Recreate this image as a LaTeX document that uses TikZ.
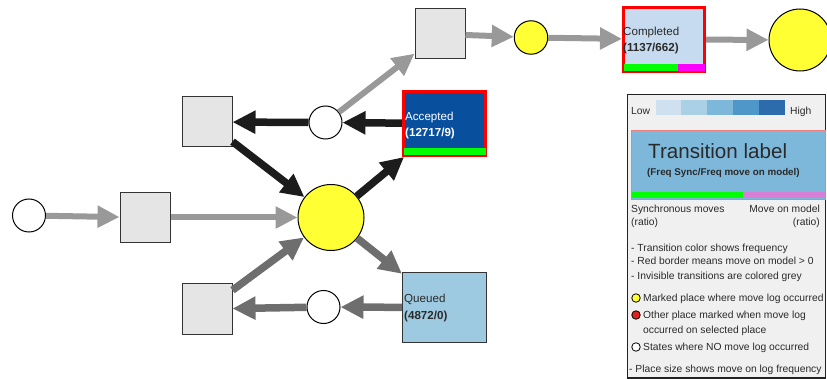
\documentclass[tikz,border=0pt]{standalone}
\usepackage{fontspec}
\setmainfont{Liberation Sans}
\usetikzlibrary{arrows.meta}

\definecolor{edgelight}{HTML}{999999}
\definecolor{edgemid}{HTML}{6E6E6E}
\definecolor{edgedark}{HTML}{1C1C1C}
\definecolor{transfill}{HTML}{E5E5E5}
\definecolor{transline}{HTML}{333333}
\definecolor{placeyel}{HTML}{FFFF33}
\definecolor{accfill}{HTML}{08509E}
\definecolor{quefill}{HTML}{9ECAE1}
\definecolor{compfill}{HTML}{C6DBEF}
\definecolor{syncgreen}{HTML}{00FF00}
\definecolor{modelmag}{HTML}{FF00FF}
\definecolor{legbg}{HTML}{F0F0F0}
\definecolor{legline}{HTML}{222222}
\definecolor{gradA}{HTML}{CFE1F0}
\definecolor{gradB}{HTML}{A9D0E4}
\definecolor{gradC}{HTML}{7DB8DB}
\definecolor{gradD}{HTML}{4E97C8}
\definecolor{gradE}{HTML}{2D6CAC}
\definecolor{legborder}{HTML}{F08080}
\definecolor{legviolet}{HTML}{D77FD7}
\definecolor{legred}{HTML}{E02020}
\definecolor{txtdark}{HTML}{2A2A2A}

\begin{document}
\begin{tikzpicture}[x=1pt,y=-1pt,
  place/.style={circle,draw=black,line width=1pt,fill=white,inner sep=0pt},
  trans/.style={rectangle,draw=transline,line width=1pt,fill=transfill,
    minimum size=50pt,inner sep=0pt},
  activity/.style={rectangle,inner sep=0pt,minimum width=82pt,minimum height=64pt},
  edgeL/.style={draw=edgelight,line width=6pt,-{Triangle[length=22pt,width=21pt]}},
  edgeM/.style={draw=edgemid,line width=7.5pt,-{Triangle[length=23pt,width=22pt]}},
  edgeD/.style={draw=edgedark,line width=7.5pt,-{Triangle[length=23pt,width=22pt]}},
  ntext/.style={inner sep=0pt,anchor=base west,font=\fontsize{11.6}{14}\selectfont},
  ltext/.style={inner sep=0pt,anchor=base west,text=txtdark,font=\fontsize{10.3}{12}\selectfont},
  rtext/.style={inner sep=0pt,anchor=base east,text=txtdark,font=\fontsize{10.3}{12}\selectfont},
  legdot/.style={circle,draw=black,line width=0.8pt,inner sep=0pt,minimum size=8.5pt}
]
\useasboundingbox (0,0) rectangle (827,379);

% ---- places ----
\node[place,minimum size=33pt] (pstart) at (29,215.5) {};
\node[place,fill=placeyel,minimum size=66pt] (pcentre) at (331,217.5) {};
\node[place,minimum size=33pt] (pacc) at (325.5,122.5) {};
\node[place,minimum size=33pt] (pque) at (323.5,307) {};
\node[place,fill=placeyel,minimum size=33.5pt] (pmid) at (531,37.5) {};
\node[place,fill=placeyel,minimum size=62pt] (pend) at (800,40) {};

% ---- invisible transitions ----
\node[trans] (tstart) at (145,217.5) {};
\node[trans] (tloopA) at (207,122) {};
\node[trans] (tloopQ) at (207,309) {};
\node[trans] (ttop) at (440,34) {};

% ---- visible transitions ----
\node[activity,fill=accfill,draw=red,line width=3pt] (acc) at (444.5,123.5) {};
\fill[syncgreen] ([xshift=1.5pt,yshift=1.5pt]acc.south west) rectangle ([xshift=-1.5pt,yshift=8.5pt]acc.south east);
\node[ntext,text=white] (accname) at (405,121) {Accepted};
\node[ntext,text=white] (acccount) at (405,136.5) {\textbf{(12717/9)}};

\node[activity,fill=quefill,draw=transline,line width=1pt,minimum width=84pt,minimum height=69pt] (que) at (444.5,307.5) {};
\node[ntext,text=txtdark] (quename) at (404,302.5) {Queued};
\node[ntext,text=txtdark] (quecount) at (404,319.5) {\textbf{(4872/0)}};

\node[activity,fill=compfill,draw=red,line width=3pt,minimum width=81pt,minimum height=64pt] (comp) at (664,39.5) {};
\fill[syncgreen] ([xshift=1.5pt,yshift=1.5pt]comp.south west) rectangle ([xshift=-28pt,yshift=8.5pt]comp.south east);
\fill[modelmag] ([xshift=-28pt,yshift=1.5pt]comp.south east) rectangle ([xshift=-1.5pt,yshift=8.5pt]comp.south east);
\node[ntext,text=txtdark] (compname) at (623,36) {Completed};
\node[ntext,text=txtdark] (compcount) at (623,51.5) {\textbf{(1137/662)}};

% ---- arcs ----
\draw[edgeL] (pstart) -- (tstart);
\draw[edgeL] (tstart) -- (pcentre);
\draw[edgeD] (pcentre) -- (acc);
\draw[edgeD] (acc) -- (pacc);
\draw[edgeD] (pacc) -- (tloopA);
\draw[edgeD] (tloopA) -- (pcentre);
\draw[edgeM] (pcentre) -- (que);
\draw[edgeM] (que) -- (pque);
\draw[edgeM] (pque) -- (tloopQ);
\draw[edgeM] (tloopQ) -- (pcentre);
\draw[edgeL] (pacc) -- (ttop);
\draw[edgeL] (ttop) -- (pmid);
\draw[edgeL] (pmid) -- (comp);
\draw[edgeL] (comp) -- (pend);

% ---- legend ----
\draw[fill=legbg,draw=legline,line width=1.2pt] (627.5,94.5) rectangle (825.5,378);
\node[ltext] (lowlbl) at (631,114.5) {Low};
\fill[gradA] (656,100) rectangle (681,115);
\fill[gradB] (681,100) rectangle (707,115);
\fill[gradC] (707,100) rectangle (733,115);
\fill[gradD] (733,100) rectangle (759,115);
\fill[gradE] (759,100) rectangle (785,115);
\node[ltext] (highlbl) at (790,114.5) {High};

\fill[gradC] (631,130) rectangle (825,199);
\fill[syncgreen] (631,192) rectangle (743,198.5);
\fill[legviolet] (743,192) rectangle (825,198.5);
\draw[legborder,line width=0.9pt] (631,130) rectangle (825,199);
\node[inner sep=0pt,anchor=base west,text=txtdark,font=\fontsize{20.6}{24}\selectfont] (tlbl) at (648,158.5) {Transition label};
\node[inner sep=0pt,anchor=base west,text=txtdark,font=\fontsize{9.8}{11}\selectfont\bfseries] (tsub) at (647,175.5) {(Freq Sync/Freq move on model)};

\node[ltext] (syncl) at (631,212.5) {Synchronous moves};
\node[ltext] (syncr) at (631,225.5) {(ratio)};
\node[rtext] (modl) at (820,212.5) {Move on model};
\node[rtext] (modr) at (820,225.5) {(ratio)};

\node[ltext] (noteA) at (631,251.5) {- Transition color shows frequency};
\node[ltext] (noteB) at (631,265) {- Red border means move on model > 0};
\node[ltext] (noteC) at (631,279.5) {- Invisible transitions are colored grey};

\node[legdot,fill=placeyel] (dotY) at (636,298) {};
\node[ltext] (markY) at (643,301.5) {Marked place where move log occurred};
\node[legdot,fill=legred] (dotR) at (636,315) {};
\node[ltext] (markR) at (643,319) {Other place marked when move log};
\node[ltext] (markR2) at (643,333.5) {occurred on selected place};
\node[legdot,fill=white] (dotW) at (636,347) {};
\node[ltext] (markW) at (643,350.5) {States where NO move log occurred};

\node[ltext] (noteD) at (629,372.5) {- Place size shows move on log frequency};
\end{tikzpicture}
\end{document}
